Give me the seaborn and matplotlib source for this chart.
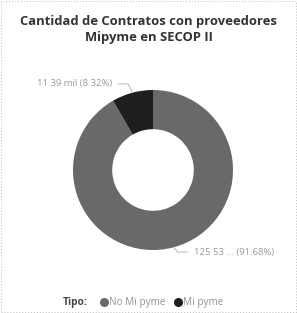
import numpy as np
import matplotlib
matplotlib.use('Agg')
import matplotlib.pyplot as plt
import seaborn as sns
from matplotlib.lines import Line2D
from matplotlib.patches import Rectangle

sns.set_theme(style='white')
plt.rcParams['font.family'] = ['Open Sans', 'DejaVu Sans']

# data
categories = ['No Mi pyme', 'Mi pyme']
values = [125.53, 11.39]  # miles de contratos
value_labels = ['125 53 ...', '11.39 mil']
colors = ['#696969', '#1e1e1e']
title = 'Cantidad de Contratos con proveedores\nMipyme en SECOP II'

W, H = 297, 313
fig = plt.figure(figsize=(W / 100, H / 100), dpi=100)
fig.patch.set_facecolor('white')

# dotted frame round the visual
fig.patches.append(Rectangle((0.004, 0.004), 0.992, 0.992, transform=fig.transFigure,
                             fill=False, ec='#c8c8c8', lw=0.8, ls=':'))

fig.text(0.5, 0.905, title, ha='center', va='center', fontsize=9.4,
         fontweight='bold', color='#333333', linespacing=1.3)

# donut
cx, cy, r = 153, 170, 80
ax = fig.add_axes([(cx - r) / W, 1 - (cy + r) / H, 2 * r / W, 2 * r / H])
wedges, _ = ax.pie(values, colors=colors, startangle=90, counterclock=False,
                   wedgeprops=dict(width=0.49, edgecolor='none'))
ax.set_xlim(-1, 1)
ax.set_ylim(-1, 1)
ax.set_aspect('equal')
ax.axis('off')

total = sum(values)
pcts = [v / total * 100 for v in values]

# data labels with leader lines
for w, lab, p in zip(wedges, value_labels, pcts):
    ang = np.deg2rad((w.theta1 + w.theta2) / 2)
    x0, y0 = np.cos(ang), np.sin(ang)
    txt = f'{lab} ({p:.2f}%)'
    side = 1 if x0 > 0 else -1
    yl = y0 + (0.11 if y0 > 0 else -0.06)
    xe = x0 + side * 0.05
    ax.plot([x0, xe, xe + side * 0.13], [y0, yl, yl], color='#b8b8b8', lw=0.7,
            clip_on=False)
    ax.text(xe + side * 0.2, yl, txt, ha='left' if side > 0 else 'right',
            va='center', fontsize=6.8, color='#9a9a9a', clip_on=False)

# legend
fig.text(0.21, 0.033, 'Tipo:', ha='left', va='center', fontsize=7.3,
         fontweight='bold', color='#444444')
handles = [Line2D([], [], marker='o', ls='', color=c, markersize=5.5) for c in colors]
leg = fig.legend(handles, categories, loc='center left', bbox_to_anchor=(0.315, 0.033),
                 ncol=2, frameon=False, fontsize=7.2, handletextpad=0.05,
                 columnspacing=0.7, borderpad=0, handlelength=1.0)
for t in leg.get_texts():
    t.set_color('#949494')

fig.savefig('out.png', dpi=100)
